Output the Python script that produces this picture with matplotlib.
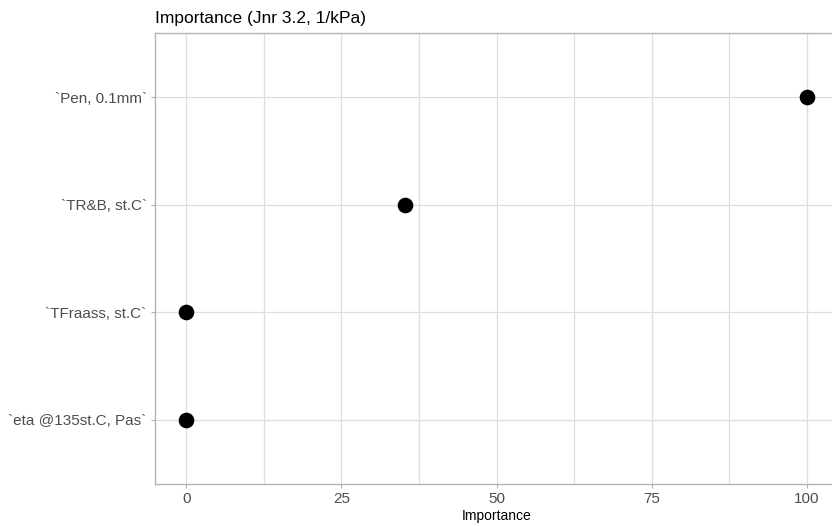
import matplotlib.pyplot as plt
from matplotlib.ticker import MultipleLocator

# variable importance, top to bottom
features = ["`Pen, 0.1mm`", "`TR&B, st.C`", "`TFraass, st.C`", "`eta @135st.C, Pas`"]
importance = [100.0, 35.3, 0.0, 0.0]

x_ticks = [0, 25, 50, 75, 100]

plt.rcParams['font.family'] = ['Liberation Sans', 'DejaVu Sans']

W, H = 832, 526
fig = plt.figure(figsize=(W / 100, H / 100), dpi=100)

# panel spans past the right edge, like the original crop
left, right, top, bottom = 155, 837.7, 33, 484
ax = fig.add_axes([left / W, 1 - bottom / H, (right - left) / W, (bottom - top) / H])

n = len(features)
ypos = list(range(n - 1, -1, -1))

ax.set_xlim(-5.05, 105.0)
ax.set_ylim(-0.6, n - 1 + 0.6)

ax.set_xticks(x_ticks)
ax.xaxis.set_minor_locator(MultipleLocator(12.5))
ax.set_yticks(ypos)
ax.set_yticklabels(features)

grid_col = "#DEDEDE"
ax.grid(which="major", color=grid_col, linewidth=0.9)
ax.grid(which="minor", axis="x", color=grid_col, linewidth=0.9)
ax.set_axisbelow(True)

for s in ax.spines.values():
    s.set_color("#B3B3B3")
    s.set_linewidth(1.0)

ax.tick_params(which="major", length=3, color="#B3B3B3", labelcolor="#4D4D4D",
               labelsize=11, pad=3)
ax.tick_params(which="minor", length=0)

ax.scatter(importance, ypos, s=105, color="black", zorder=3, clip_on=False)

ax.set_xlabel("Importance", fontsize=10, color="black", labelpad=2)
ax.set_title("Importance (Jnr 3.2, 1/kPa)", loc="left", fontsize=12.5, color="black", pad=7)

fig.savefig("out.png", dpi=100)
